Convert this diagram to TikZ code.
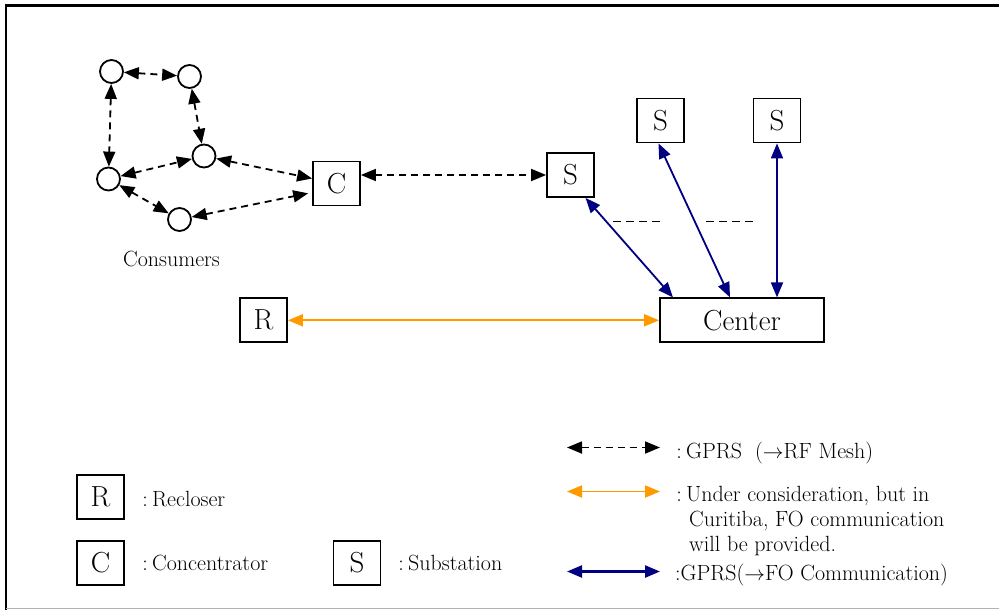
\documentclass[tikz,border=0pt]{standalone}
\usepackage{fontspec}
\usetikzlibrary{arrows.meta}
\newcommand\fwcolon{\makebox[14pt][c]{:}}
\definecolor{navy}{RGB}{0,0,128}
\definecolor{amber}{RGB}{255,153,0}
\begin{document}
\begin{tikzpicture}[x=1pt,y=-1pt,
  box/.style={draw, line width=1.8pt, minimum width=47pt, minimum height=44pt,
    inner sep=0pt, font=\fontsize{29}{32}\selectfont},
  consumer/.style={draw, circle, line width=1.8pt, minimum size=23pt, inner sep=0pt},
  label/.style={inner sep=0pt, font=\fontsize{22}{25}\selectfont},
  link/.style={line width=1.8pt,
    {Triangle[length=15pt,width=12pt]}-{Triangle[length=15pt,width=12pt]}},
  mesh/.style={link, black, dash pattern=on 7pt off 5pt},
  fiber/.style={link, amber},
  gprs/.style={link, navy},
  gap/.style={line width=1.8pt, dash pattern=on 8pt off 5pt}]

\useasboundingbox (0,0) rectangle (999,610);

% page frame
\draw[line width=2.2pt] (6,610) -- (6,5.5) -- (999,5.5);
\draw[black!30, line width=1.4pt] (6,608.5) -- (999,608.5);

% consumer mesh
\node[consumer] (c1) at (111.5,71.5) {};
\node[consumer] (c2) at (189.5,76.5) {};
\node[consumer] (c3) at (204,156) {};
\node[consumer] (c4) at (108.5,179) {};
\node[consumer] (c5) at (179.5,219.5) {};
\node[label, anchor=base] (cons) at (171.5,266) {Consumers};

\draw[mesh] (c1) -- (c2);
\draw[mesh] (c1) -- (c4);
\draw[mesh] (c2) -- (c3);
\draw[mesh] (c4) -- (c3);
\draw[mesh] (c4) -- (c5);

% concentrator, recloser, substations, center
\node[box] (conc) at (336.5,183.5) {C};
\node[box] (smid) at (570.5,175) {S};
\node[box] (s1) at (660.5,120.5) {S};
\node[box] (s2) at (777,120.5) {S};
\node[box, minimum width=164pt] (center) at (742,320.3) {Center};
\node[box] (rec) at (263.5,320.3) {R};

\draw[mesh] (c3) -- ([yshift=5pt]conc.west);
\draw[mesh, shorten >=4pt] (c5) -- ([yshift=-9pt]conc.west);
\draw[mesh] ([yshift=8.5pt]conc.east) -- (smid.west);

\draw[gprs] ([xshift=15pt]smid.south) -- ([xshift=-69pt]center.north);
\draw[gprs] ([xshift=-2pt]s1.south) -- ([xshift=-12pt]center.north);
\draw[gprs] (s2.south) -- ([xshift=35pt]center.north);
\draw[fiber] (rec.east) -- (center.west);

% further substations
\coordinate (g1a) at (613,221.5);
\coordinate (g1b) at (662,221.5);
\coordinate (g2a) at (706,221.5);
\coordinate (g2b) at (755,221.5);
\draw[gap] (g1a) -- (g1b);
\draw[gap] (g2a) -- (g2b);

% legend: symbols
\node[box] (lr) at (100.5,497) {R};
\node[label, anchor=base west] (lrt) at (138,506.7) {\fwcolon Recloser};
\node[box] (lc) at (100.5,563) {C};
\node[label, anchor=base west] (lct) at (138,570) {\fwcolon Concentrator};
\node[box] (ls) at (357,563) {S};
\node[label, anchor=base west] (lst) at (394,570) {\fwcolon Substation};

% legend: links
\coordinate (m1) at (567,447.5);
\coordinate (m2) at (660,447.5);
\coordinate (f1) at (567,491.5);
\coordinate (f2) at (660,491.5);
\coordinate (b1) at (567,571.5);
\coordinate (b2) at (660,571.5);
\draw[mesh] (m1) -- (m2);
\draw[fiber] (f1) -- (f2);
\draw[gprs, line width=2.4pt] (b1) -- (b2);
\node[label, anchor=base west] (mt) at (672,458) {\fwcolon GPRS\hspace{13pt}($\rightarrow$RF Mesh)};
\node[label, anchor=north west, align=left] (ft) at (672,486.5)
  {\fwcolon Under consideration, but in\\
   \hspace*{17pt}Curitiba, FO communication\\
   \hspace*{17pt}will be provided.};
\node[label, anchor=base west] (bt) at (675,580) {:GPRS($\rightarrow$FO Communication)};
\end{tikzpicture}
\end{document}
